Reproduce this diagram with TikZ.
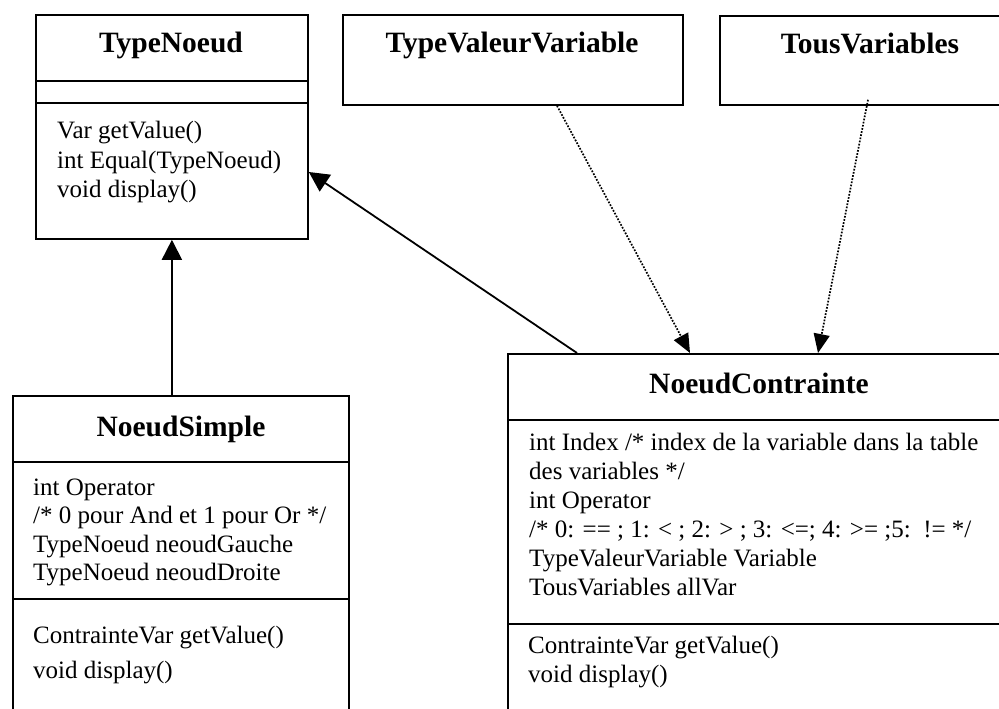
\documentclass[tikz,border=0pt]{standalone}
\usepackage{fontspec}
\setmainfont{Liberation Serif}
\usetikzlibrary{arrows.meta,calc}

\tikzset{
  classbox/.style={draw, line width=1.8pt, rectangle, inner sep=0pt, anchor=north west},
  divider/.style={line width=1.8pt},
  classtitle/.style={font=\fontsize{29.5}{30}\selectfont\bfseries, inner sep=0pt, anchor=base},
  member/.style={font=\fontsize{25}{29}\selectfont, inner sep=0pt, anchor=base west},
  inherit/.style={line width=1.8pt, -{Triangle[length=20pt,width=20pt]}},
  uses/.style={line width=1.7pt, dash pattern=on 1.7pt off 1.5pt, -{Triangle[length=19pt,width=16pt]}}
}

\begin{document}
\begin{tikzpicture}[x=1pt,y=-1pt]
\useasboundingbox (0,0) rectangle (999,709);
\clip (0,0) rectangle (999,709);

% class boxes
\node[classbox, minimum width=272pt, minimum height=224pt] (tn) at (35,14) {};
\node[classbox, minimum width=340pt, minimum height=90pt] (tvv) at (342,14) {};
\node[classbox, minimum width=320pt, minimum height=89pt] (tv) at (719,15) {};
\node[classbox, minimum width=336pt, minimum height=340pt] (ns) at (12,395) {};
\node[classbox, minimum width=520pt, minimum height=400pt] (nc) at (507,353) {};

% compartment lines
\coordinate (tnA) at (0,81);
\coordinate (tnB) at (0,103);
\draw[divider] (tn.west |- tnA) -- (tn.east |- tnA);
\draw[divider] (tn.west |- tnB) -- (tn.east |- tnB);
\coordinate (nsA) at (0,462);
\coordinate (nsB) at (0,599);
\draw[divider] (ns.west |- nsA) -- (ns.east |- nsA);
\draw[divider] (ns.west |- nsB) -- (ns.east |- nsB);
\coordinate (ncA) at (0,420);
\coordinate (ncB) at (0,624);
\draw[divider] (nc.west |- ncA) -- (nc.east |- ncA);
\draw[divider] (nc.west |- ncB) -- (nc.east |- ncB);

% class names
\node[classtitle] (tnT) at (171,53) {TypeNoeud};
\node[classtitle] (tvvT) at (512,53) {TypeValeurVariable};
\node[classtitle] (tvT) at (870,54) {TousVariables};
\node[classtitle] (nsT) at (181,436) {NoeudSimple};
\node[classtitle] (ncT) at (759,393) {NoeudContrainte};

% TypeNoeud operations
\node[member] (tn1) at (57,139) {Var getValue()};
\node[member] (tn2) at (57,168) {int Equal(TypeNoeud)};
\node[member] (tn3) at (57,197) {void display()};

% NoeudSimple attributes and operations
\node[member] (ns1) at (33,495) {int Operator};
\node[member] (ns2) at (33,523) {/* 0 pour And et 1 pour Or */};
\node[member] (ns3) at (33,552) {TypeNoeud neoudGauche};
\node[member] (ns4) at (33,580) {TypeNoeud neoudDroite};
\node[member] (ns5) at (33,643) {ContrainteVar getValue()};
\node[member] (ns6) at (33,678) {void display()};

% NoeudContrainte attributes and operations
\node[member] (nc1) at (529,450) {int Index /* index de la variable dans la table};
\node[member] (nc2) at (529,479) {des variables */};
\node[member] (nc3) at (529,508) {int Operator};
\node[member] (nc4) at (529,537) {/* 0: == ; 1: < ; 2: > ; 3: <=; 4: >= ;5:\ \ != */};
\node[member] (nc5) at (529,566) {TypeValeurVariable Variable};
\node[member] (nc6) at (529,595) {TousVariables allVar};
\node[member] (nc7) at (528,653) {ContrainteVar getValue()};
\node[member] (nc8) at (528,682) {void display()};

% generalisations
\draw[inherit] (ns.north -| tn.south) -- (tn.south);
\draw[inherit] ($(nc.north west)+(70,0)$) -- ($(tn.north east)+(0,158)$);

% dependencies
\draw[uses] ($(tvv.south west)+(215,0)$) -- ($(nc.north west)+(183,0)$);
\draw[uses] ($(tv.south west)+(149,-6)$) -- ($(nc.north west)+(311,0)$);
\end{tikzpicture}
\end{document}
